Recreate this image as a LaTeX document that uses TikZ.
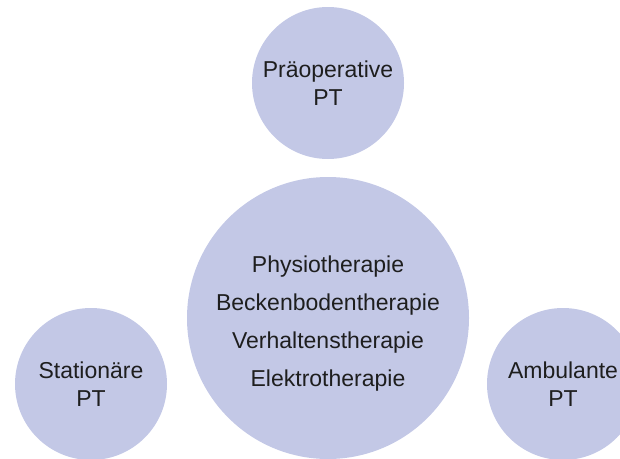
\documentclass[tikz,border=0pt]{standalone}
\usepackage{fontspec}
\setmainfont{Liberation Sans}
\usetikzlibrary{positioning}
\definecolor{ptlavender}{HTML}{C3C8E6}
\definecolor{pttext}{HTML}{1E1E1E}

\begin{document}
\begin{tikzpicture}[
  x=1pt,y=-1pt,
  font=\fontsize{23}{28}\selectfont,
  bubble/.style={circle,fill=ptlavender,draw=none,text=pttext,
    align=center,inner sep=0pt,minimum size=152pt},
  core/.style={bubble,minimum size=282pt,
    font=\fontsize{23}{38}\selectfont}
]
  \clip (0,0) rectangle (620,458);
  \useasboundingbox (0,0) rectangle (620,458);

  % outer settings
  \node[bubble] (praeop) at (328,83) {Präoperative\\PT};
  \node[bubble] (station) at (91,384) {Stationäre\\PT};
  \node[bubble] (ambulant) at (563,384) {Ambulante\\PT};

  % therapy forms
  \node[core] (therapie) at (328,318) {};
  \node[text=pttext,align=center,font=\fontsize{23}{38}\selectfont]
    (formen) at (328,324)
    {Physiotherapie\\Beckenbodentherapie\\Verhaltenstherapie\\Elektrotherapie};
\end{tikzpicture}
\end{document}
